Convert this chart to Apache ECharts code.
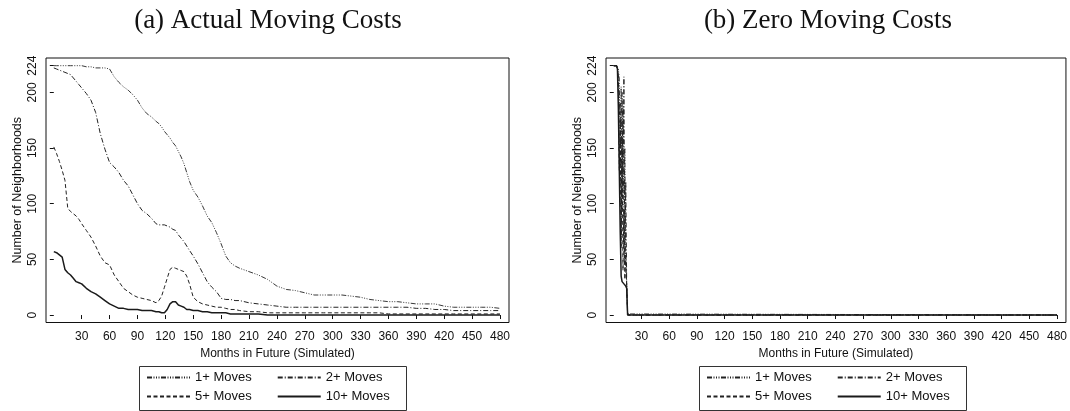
<!DOCTYPE html>
<html>
<head>
<meta charset="utf-8">
<script src="https://cdn.jsdelivr.net/npm/echarts@6/dist/echarts.min.js"></script>
<style>
html,body{margin:0;padding:0;background:#fff;}
#c{width:1070px;height:411px;}
</style>
</head>
<body>
<div id="c"></div>
<script>
// ---------- DATA ----------
const seriesNames = ['1+ Moves', '2+ Moves', '5+ Moves', '10+ Moves'];
const xTicks = [30,60,90,120,150,180,210,240,270,300,330,360,390,420,450,480];
const yTicks = [0,50,100,150,200,224];

// (a) Actual Moving Costs
const monthsA = [0,3,6,9,12,15,18,21,24,27,30,35,40,45,50,55,60,65,70,75,80,85,90,95,100,105,110,113,116,119,122,125,128,131,134,137,140,143,146,150,155,160,165,170,175,180,185,190,195,200,210,220,230,240,250,260,270,280,290,300,310,320,330,340,350,360,370,380,390,400,410,420,430,440,450,460,470,480];
const actual1 = [224,224,224,224,224,224,224,224,224,224,224,223,223,222,222,222,221,214,209,205,202,198,193,186,181,178,174,172,169,165,162,159,155,152,147,142,136,128,120,112,106,98,89,83,74,64,53,47,44,42,39,36,32,26,23,22,20,18,18,18,18,17,16,14,13,12,12,11,10,10,10,8,7,7,7,7,7,6];
const actual2 = [222,221,220,219,218,217,216,213,210,207,204,199,193,182,163,149,137,133,128,121,116,108,100,94,91,87,82,81,81,81,80,79,77,76,72,69,66,62,58,53,46,38,30,25,21,15,14,14,13,13,11,10,9,8,7,7,7,7,7,7,7,7,7,7,7,7,7,7,6,6,5,5,4,4,4,4,4,4];
const actual5 = [151,145,138,130,121,96,93,91,89,86,82,76,70,62,53,47,45,36,30,24,21,18,16,15,14,13,11,13,17,25,33,41,43,42,41,40,39,35,28,16,12,10,9,8,7,7,6,5,5,4,3,3,2,2,2,2,2,2,2,2,2,2,2,2,2,1,1,1,1,1,1,1,1,1,1,1,1,1];
const actual10 = [57,56,54,52,41,38,36,33,30,29,28,24,21,19,16,13,10,8,6,6,5,5,5,4,4,4,3,3,2,2,5,10,12,12,9,8,7,5,5,4,4,3,3,2,2,2,2,1,1,1,1,1,0,0,0,0,0,0,0,0,0,0,0,0,0,0,0,0,0,0,0,0,0,0,0,0,0,0];

// (b) Zero Moving Costs
const monthsB = [0,1,2,3,4,5,6,7,8,9,10,11,12,13,14,15,16,480];
const zero1 = [224,224,224,224,224,221,212,150,205,95,188,60,150,40,30,1,0,0];
const zero2 = [224,224,224,224,223,216,180,190,70,200,110,214,45,120,28,2,0,0];
const zero5 = [224,224,224,224,222,205,130,175,60,160,40,95,32,55,26,0,0,0];
const zero10 = [224,224,224,224,221,185,130,75,35,30,29,28,27,26,24,0,0,0];

// ---------- STYLE ----------
const lineStyles = [
  {color:'#222', width:0.9, type:[5,1.5,1,1.5,1,1.5,1,1.5]},
  {color:'#222', width:1, type:[5,2,1,2]},
  {color:'#222', width:1, type:[4,2.5]},
  {color:'#1a1a1a', width:1.5, type:'solid'}
];
const sansFont = 'Liberation Sans, Arial, sans-serif';

function pairs(xs, ys){ return xs.map((x,i)=>[x, ys[i]]); }

const panels = [
  {left:46, title:'(a) Actual Moving Costs', titleX:263, months:monthsA, data:[actual1,actual2,actual5,actual10], legendX:146, boxX:139.5},
  {left:606, title:'(b) Zero Moving Costs', titleX:823, months:monthsB, data:[zero1,zero2,zero5,zero10], legendX:706, boxX:699.5}
];

const grids=[], xAxes=[], yAxes=[], series=[], titles=[], legends=[], graphics=[];
panels.forEach((p, k) => {
  grids.push({left:p.left, width:463, top:58, height:264.5, show:true, borderColor:'#111', borderWidth:1, backgroundColor:'#fff'});
  xAxes.push({
    type:'value', gridIndex:k, min:-8.4, max:489.7,
    name:'Months in Future (Simulated)', nameLocation:'middle', nameGap:22,
    nameTextStyle:{fontFamily:sansFont, fontSize:12, color:'#111'},
    axisLine:{show:false},
    axisTick:{show:true, length:4, lineStyle:{color:'#111'}, customValues:xTicks},
    axisLabel:{fontFamily:sansFont, fontSize:12, color:'#111', margin:8, customValues:xTicks},
    splitLine:{show:false}
  });
  yAxes.push({
    type:'value', gridIndex:k, min:-6.7, max:230.9,
    name:'Number of Neighborhoods', nameLocation:'middle', nameGap:22, nameRotate:90,
    nameTextStyle:{fontFamily:sansFont, fontSize:12.5, color:'#111'},
    axisLine:{show:false},
    axisTick:{show:true, length:4, lineStyle:{color:'#111'}, customValues:yTicks},
    axisLabel:{fontFamily:sansFont, fontSize:12, color:'#111', margin:7, rotate:90, customValues:yTicks},
    splitLine:{show:false}
  });
  seriesNames.forEach((n, i) => {
    series.push({
      name:n, type:'line', xAxisIndex:k, yAxisIndex:k,
      data:pairs(p.months, p.data[i]),
      symbol:'none', showSymbol:false, animation:false,
      lineStyle:lineStyles[i], itemStyle:{color:lineStyles[i].color}
    });
  });
  titles.push({text:p.title, left:p.titleX, top:2, textAlign:'center',
    textStyle:{fontFamily:'Liberation Serif, serif', fontWeight:'normal', fontSize:27, color:'#111'}});
  [[seriesNames[0], seriesNames[1]], [seriesNames[2], seriesNames[3]]].forEach((row, r) => {
    legends.push({
      data:row, orient:'horizontal', left:p.legendX, top: r===0 ? 371 : 390,
      itemWidth:43, itemHeight:14, itemGap:25, padding:0,
      itemStyle:{opacity:0},
      textStyle:{fontFamily:sansFont, fontSize:13, color:'#111'},
      selectedMode:false
    });
  });
  graphics.push({type:'rect', shape:{x:p.boxX, y:366.5, width:267, height:44},
    style:{fill:'none', stroke:'#333', lineWidth:1}, silent:true});
});

const chart = echarts.init(document.getElementById('c'), null, {renderer:'canvas'});
chart.setOption({
  backgroundColor:'#fff',
  animation:false,
  title:titles,
  grid:grids,
  xAxis:xAxes,
  yAxis:yAxes,
  legend:legends,
  series:series,
  graphic:graphics
});
</script>
</body>
</html>
